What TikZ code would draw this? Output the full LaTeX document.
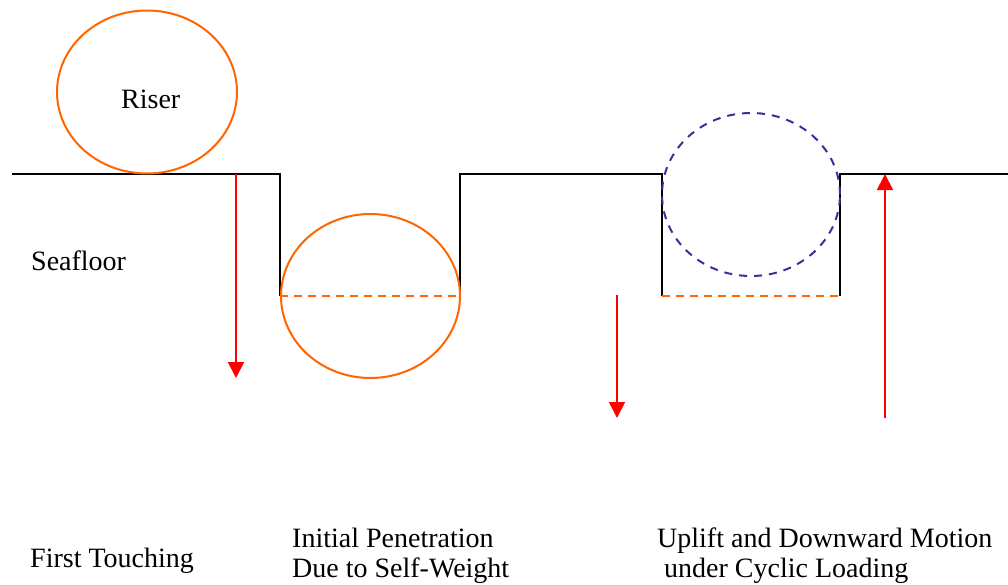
\documentclass[tikz,border=0pt]{standalone}
\usepackage{fontspec}
\setmainfont{Liberation Serif}
\usetikzlibrary{shapes.geometric,arrows.meta}
\definecolor{riserorange}{RGB}{255,102,0}
\definecolor{dashblue}{RGB}{51,51,153}
\tikzset{
  ground/.style={draw=black,line width=1.8pt},
  pipe/.style={draw=riserorange,line width=2pt,ellipse,inner sep=0pt,minimum width=180pt,minimum height=163pt},
  ghost/.style={draw=dashblue,line width=2pt,ellipse,inner sep=0pt,minimum width=178pt,minimum height=163pt,dash pattern=on 8pt off 7pt},
  trenchline/.style={draw=riserorange,line width=1.8pt,dash pattern=on 8pt off 6pt},
  motion/.style={draw=red,line width=1.8pt,-{Triangle[length=16pt,width=16pt]}},
  label/.style={anchor=base west,inner sep=0pt,font=\fontsize{28}{32}\selectfont}
}
\begin{document}
\begin{tikzpicture}[x=1pt,y=-1pt]
\useasboundingbox (0,0) rectangle (1008,584);
% seafloor profile
\coordinate (g0) at (12,174);
\coordinate (g1) at (280,174);
\coordinate (g2) at (280,296);
\coordinate (g3) at (460,296);
\coordinate (g4) at (460,174);
\coordinate (g5) at (662,174);
\coordinate (g6) at (662,296);
\coordinate (g7) at (840,296);
\coordinate (g8) at (840,174);
\coordinate (g9) at (1008,174);
\draw[ground] (g0) -- (g1) -- (g2);
\draw[ground] (g3) -- (g4) -- (g5) -- (g6);
\draw[ground] (g7) -- (g8) -- (g9);
\draw[trenchline] (g2) -- (g3);
\draw[trenchline] (g6) -- (g7);
% risers
\node[pipe] (r1) at (147,92) {};
\node[pipe,minimum width=179pt,minimum height=164pt] (r2) at (370.5,296) {};
\node[ghost] (r3) at (751,194.5) {};
% arrows
\coordinate (a1s) at (236,174);
\coordinate (a1e) at (236,378);
\coordinate (a2s) at (617,295);
\coordinate (a2e) at (617,418);
\coordinate (a3s) at (885,418);
\coordinate (a3e) at (885,174);
\draw[motion] (a1s) -- (a1e);
\draw[motion] (a2s) -- (a2e);
\draw[motion] (a3s) -- (a3e);
% texts
\node[label] (tr) at (121,108) {Riser};
\node[label] (ts) at (31,270) {Seafloor};
\node[label] (t1) at (30,567) {First Touching};
\node[label] (t2a) at (292,547) {Initial Penetration};
\node[label] (t2b) at (292,577) {Due to Self-Weight};
\node[label] (t3a) at (657,547) {Uplift and Downward Motion};
\node[label] (t3b) at (664,577) {under Cyclic Loading};
\end{tikzpicture}
\end{document}
